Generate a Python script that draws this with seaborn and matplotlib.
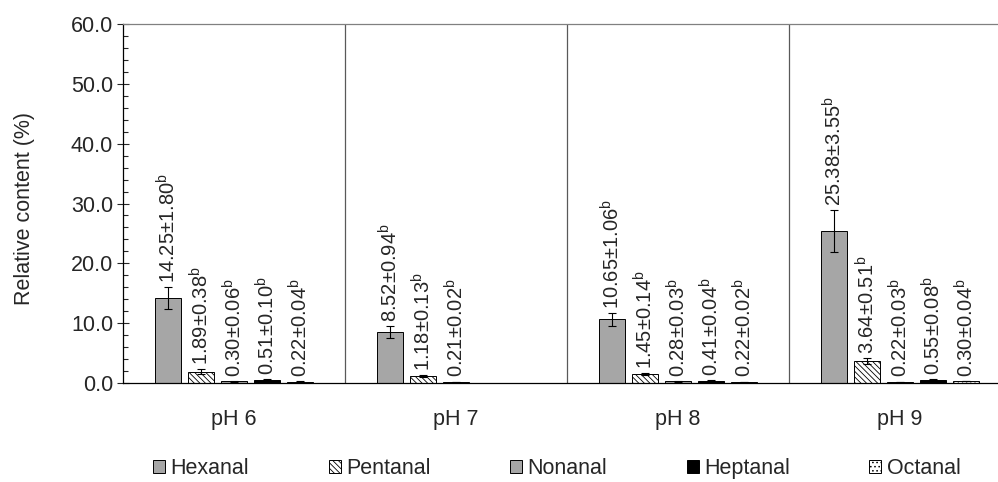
import matplotlib
matplotlib.use("Agg")
import matplotlib.pyplot as plt
import matplotlib.patches as mpatches
from matplotlib.ticker import MultipleLocator, FormatStrFormatter
import numpy as np
import pandas as pd
import seaborn as sns

groups = ["pH 6", "pH 7", "pH 8", "pH 9"]
compounds = ["Hexanal", "Pentanal", "Nonanal", "Heptanal", "Octanal"]

hexanal = [14.25, 8.52, 10.65, 25.38]
hexanal_sd = [1.80, 0.94, 1.06, 3.55]
pentanal = [1.89, 1.18, 1.45, 3.64]
pentanal_sd = [0.38, 0.13, 0.14, 0.51]
nonanal = [0.30, 0.21, 0.28, 0.22]
nonanal_sd = [0.06, 0.02, 0.03, 0.03]
heptanal = [0.51, np.nan, 0.41, 0.55]
heptanal_sd = [0.10, np.nan, 0.04, 0.08]
octanal = [0.22, np.nan, 0.22, 0.30]
octanal_sd = [0.04, np.nan, 0.02, 0.04]

means = {"Hexanal": hexanal, "Pentanal": pentanal, "Nonanal": nonanal,
         "Heptanal": heptanal, "Octanal": octanal}
sds = {"Hexanal": hexanal_sd, "Pentanal": pentanal_sd, "Nonanal": nonanal_sd,
       "Heptanal": heptanal_sd, "Octanal": octanal_sd}

fills = {"Hexanal": "#a6a6a6", "Pentanal": "white", "Nonanal": "#a6a6a6",
         "Heptanal": "black", "Octanal": "white"}
hatches = {"Hexanal": None, "Pentanal": "\\\\\\\\\\\\", "Nonanal": None,
           "Heptanal": None, "Octanal": "...."}

rows = []
for c in compounds:
    for g, m, s in zip(groups, means[c], sds[c]):
        rows.append({"pH": g, "compound": c, "value": m, "sd": s})
df = pd.DataFrame(rows)

sns.set_style("ticks")
plt.rcParams["font.family"] = ["Liberation Sans", "DejaVu Sans"]
plt.rcParams["mathtext.fontset"] = "custom"
plt.rcParams["mathtext.rm"] = "Liberation Sans"
plt.rcParams["mathtext.it"] = "Liberation Sans"
plt.rcParams["hatch.linewidth"] = 0.6

fig = plt.figure(figsize=(9.98, 4.82), dpi=100)
ax = fig.add_axes([0.1232, 0.2054, 0.8898, 0.7448])

sns.barplot(
    data=df.dropna(), x="pH", y="value", hue="compound",
    order=groups, hue_order=compounds, palette=fills,
    width=0.74, gap=0.2, edgecolor="black", linewidth=0.7,
    errorbar=None, legend=False, ax=ax,
)

for container, c in zip(ax.containers, compounds):
    for bar in container:
        if hatches[c]:
            bar.set_hatch(hatches[c])
        xc = bar.get_x() + bar.get_width() / 2
        gi = int(round(xc))
        m = means[c][gi]
        s = sds[c][gi]
        ax.errorbar(xc, m, yerr=s, fmt="none", ecolor="black",
                    elinewidth=0.8, capsize=3, capthick=0.8, zorder=4)
        ax.annotate(f"{m:.2f}±{s:.2f}" + r"$^{\mathrm{b}}$", (xc, m + s),
                    xytext=(0, 3), textcoords="offset points",
                    rotation=90, ha="center", va="bottom", fontsize=14.5)

ax.set_xlim(-0.5, 3.5)
ax.set_ylim(0, 60)
for x in [0.5, 1.5, 2.5]:
    ax.axvline(x, color="#595959", linewidth=0.9, zorder=0)

ax.yaxis.set_major_locator(MultipleLocator(10))
ax.yaxis.set_minor_locator(MultipleLocator(2))
ax.yaxis.set_major_formatter(FormatStrFormatter("%.1f"))
ax.tick_params(axis="y", which="major", direction="inout", length=8,
               width=0.8, labelsize=15.5, pad=3)
ax.tick_params(axis="y", which="minor", direction="in", length=3.6, width=0.8)
ax.tick_params(axis="x", length=0, labelsize=15.5, pad=19)

ax.set_xlabel("")
ax.set_ylabel("Relative content (%)", fontsize=15.5)
ax.yaxis.set_label_coords(-0.099, 0.485)

for side in ["left", "bottom"]:
    ax.spines[side].set_color("black")
    ax.spines[side].set_linewidth(0.9)
ax.spines["top"].set_visible(True)
ax.spines["top"].set_color("#808080")
ax.spines["top"].set_linewidth(0.9)
ax.spines["right"].set_visible(False)

handles = [mpatches.Patch(facecolor=fills[c], edgecolor="black", linewidth=0.7,
                          hatch=hatches[c], label=c) for c in compounds]
fig.legend(handles=handles, loc="center", bbox_to_anchor=(0.558, 0.027),
           ncol=5, frameon=False, fontsize=15.5, handlelength=0.55,
           handleheight=0.55, handletextpad=0.25, columnspacing=3.7)

fig.savefig("out.png", dpi=100)
